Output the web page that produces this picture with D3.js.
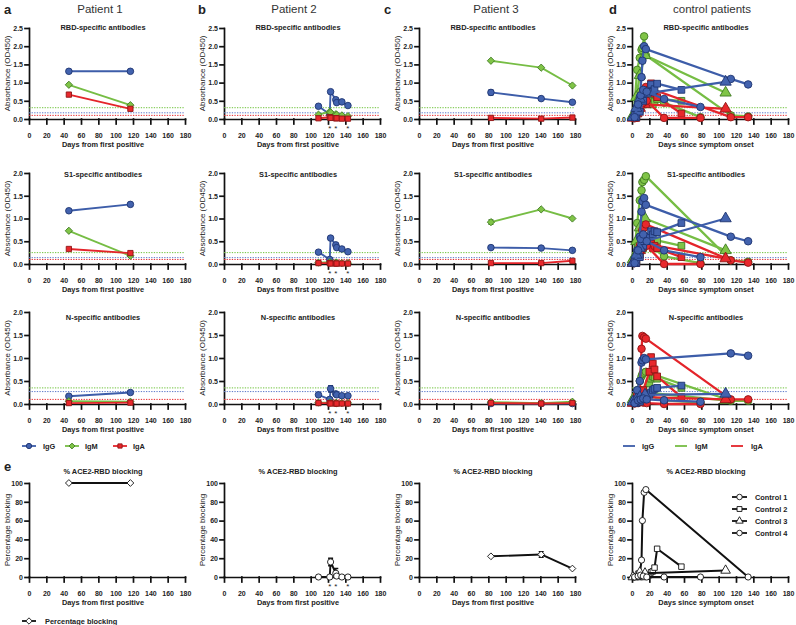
<!DOCTYPE html>
<html><head><meta charset="utf-8">
<script src="https://cdn.jsdelivr.net/npm/d3@7"></script>
<style>body{margin:0;background:#fff}svg{display:block;font-family:"Liberation Sans",Arial,sans-serif}</style>
</head><body><svg id="c" width="796" height="625"></svg>
<script>
// ---------- tick labels / text ----------
const xTicks = [0,20,40,60,80,100,120,140,160,180];
const rbdTicks = [0,0.5,1,1.5,2,2.5];
const absTicks = [0,0.5,1,1.5,2];
const blockTicks = [0,20,40,60,80,100];
const headers = ["Patient 1","Patient 2","Patient 3","control patients"];
const letters = ["a","b","c","d"];
const antigenTitles = ["RBD-specific antibodies","S1-specific antibodies","N-specific antibodies","% ACE2-RBD blocking"];
const xTitles = ["Days from first positive","Days from first positive","Days from first positive","Days since symptom onset"];
const controlNames = ["Control 1","Control 2","Control 3","Control 4"];
// cut-off lines [IgM, IgG, IgA]
const thrRBD = [0.31,0.17,0.10];
const thrS1 = [0.25,0.14,0.10];
const thrN = [0.35,0.27,0.10];

// ---------- Patient 1 ----------
const p1Days = [46,117];
const p1RBD_IgG=[1.31,1.31], p1RBD_IgM=[0.94,0.38], p1RBD_IgA=[0.67,0.28];
const p1S1_IgG=[1.17,1.31], p1S1_IgM=[0.73,0.18], p1S1_IgA=[0.33,0.24];
const p1N_IgG=[0.17,0.25], p1N_IgM=[0.06,0.05], p1N_IgA=[0.02,0.03];
const p1Block=[100,100];
// ---------- Patient 2 ----------
const p2Days = [109,122,123,129,130,136,143];
const p2Stars = [122,129,143];
const p2RBD_IgG=[0.35,0.13,0.75,0.53,0.45,0.47,0.37], p2RBD_IgM=[0.12,0.2,0.18,0.13,0.12,0.1,0.08], p2RBD_IgA=[0.02,0.05,0.03,0.02,0.02,0.01,0.01];
const p2S1_IgG=[0.26,0.1,0.57,0.42,0.36,0.33,0.27], p2S1_IgM=[0.03,0.04,0.03,0.03,0.03,0.02,0.02], p2S1_IgA=[0.02,0.02,0.01,0.01,0.01,0.01,0.01];
const p2N_IgG=[0.2,0.1,0.33,0.22,0.2,0.18,0.18], p2N_IgM=[0.03,0.03,0.03,0.02,0.02,0.02,0.02], p2N_IgA=[0.02,0.02,0.01,0.01,0.01,0.01,0.01];
const p2N_IgG_err=[0,0,0.07,0,0,0,0];
const p2Block=[0,0,16,4,1,0,0], p2Block_err=[0,0,4,5,0,0,0];
// ---------- Patient 3 ----------
const p3Days = [83,141,177];
const p3RBD_IgG=[0.73,0.56,0.46], p3RBD_IgM=[1.6,1.41,0.92], p3RBD_IgA=[0.03,0.01,0.04];
const p3RBD_IgG_err=[0.07,0,0];
const p3S1_IgG=[0.36,0.35,0.30], p3S1_IgM=[0.92,1.2,1.0], p3S1_IgA=[0.02,0.02,0.07];
const p3S1_IgM_err=[0.05,0,0];
const p3N_IgG=[0.01,0.01,0.01], p3N_IgM=[0.04,0.02,0.05], p3N_IgA=[0.02,0.01,0.02];
const p3Block=[22,24,9], p3Block_err=[0,3,0];
// ---------- Controls ----------
const c1Days=[2,6,9,11,12,14,16,114,134];
const c2Days=[5,9,13,20,22,24,26,29,57];
const c3Days=[1,5,9,15,108];
const c4Days=[3,7,10,13,17,37,79];
const c1RBD_IgG=[0.05,0.35,0.6,1.15,1.6,2.0,1.92,1.1,0.95], c1RBD_IgM=[0.1,1.35,1.68,1.9,1.95,2.27,1.75,0.1,0.07], c1RBD_IgA=[0.03,0.25,0.45,0.6,0.7,0.8,0.88,0.05,0.05];
const c2RBD_IgG=[0.05,0.2,0.5,0.75,0.95,0.75,0.82,0.97,0.8], c2RBD_IgM=[0.08,0.25,0.4,0.45,0.5,0.4,0.48,0.55,0.5], c2RBD_IgA=[0.03,0.3,0.6,0.8,0.98,0.85,0.7,0.6,0.15];
const c3RBD_IgG=[0.05,0.3,0.55,0.7,1.02], c3RBD_IgM=[0.1,0.6,1.2,1.75,0.72], c3RBD_IgA=[0.03,0.15,0.3,0.4,0.28];
const c4RBD_IgG=[0.05,0.4,0.65,0.8,0.75,0.55,0.33], c4RBD_IgM=[0.1,0.5,0.75,0.8,0.75,0.45,0.05], c4RBD_IgA=[0.02,0.2,0.35,0.45,0.5,0.03,0.03];
const c1S1_IgG=[0.02,0.3,0.6,1.15,1.38,1.45,1.3,0.6,0.5], c1S1_IgM=[0.1,0.9,1.4,1.62,1.8,1.85,1.93,0.08,0.05], c1S1_IgA=[0.02,0.2,0.4,0.6,0.75,0.8,0.87,0.08,0.03];
const c2S1_IgG=[0.02,0.15,0.4,0.6,0.72,0.65,0.72,0.7,0.9], c2S1_IgM=[0.05,0.2,0.35,0.45,0.5,0.45,0.5,0.52,0.4], c2S1_IgA=[0.02,0.2,0.4,0.5,0.45,0.35,0.4,0.35,0.15];
const c3S1_IgG=[0.02,0.2,0.35,0.5,1.0], c3S1_IgM=[0.1,0.5,0.8,1.0,0.3], c3S1_IgA=[0.02,0.15,0.3,0.45,0.12];
const c4S1_IgG=[0.02,0.3,0.55,0.65,0.5,0.3,0.15], c4S1_IgM=[0.1,0.4,0.6,0.55,0.45,0.17,0.02], c4S1_IgA=[0.02,0.15,0.3,0.35,0.4,0.0,0.0];
const c1N_IgG=[0.05,0.3,0.5,0.9,0.95,1.0,0.97,1.1,1.05], c1N_IgM=[0.1,0.3,0.5,0.6,0.65,0.68,0.7,0.07,0.07], c1N_IgA=[0.03,0.2,0.3,1.2,1.48,1.45,1.42,0.1,0.1];
const c2N_IgG=[0.02,0.05,0.1,0.2,0.25,0.3,0.33,0.35,0.4], c2N_IgM=[0.1,0.15,0.3,0.45,0.55,0.6,0.58,0.55,0.35], c2N_IgA=[0.02,0.1,0.3,0.7,1.02,0.88,0.75,0.6,0.15];
const c3N_IgG=[0.05,0.1,0.15,0.2,0.22], c3N_IgM=[0.1,0.15,0.2,0.25,0.08], c3N_IgA=[0.02,0.05,0.1,0.15,0.1];
const c4N_IgG=[0.02,0.08,0.1,0.12,0.1,0.08,0.05], c4N_IgM=[0.1,0.15,0.2,0.25,0.2,0.08,0.03], c4N_IgA=[0.01,0.02,0.05,0.03,0.02,0.0,0.0];
const c1Block=[0,1,3,18,60,90,93,null,0];
const c2Block=[0,0,0,2,5,6,10,30,11];
const c3Block=[0,1,5,4,7];
const c4Block=[0,1,2,1,0,0,0];

// ---------- layout / style ----------
const svg = d3.select("#c");
const colX = [29,224,419,632], W = 156;
const rows = [
  {top:28,bot:119,max:2.5,ticks:rbdTicks,fmt:d3.format(".1f"),titleY:30,yl:"Absorbance (OD450)"},
  {top:173,bot:264,max:2,ticks:absTicks,fmt:d3.format(".1f"),titleY:176.5,yl:"Absorbance (OD450)"},
  {top:312,bot:404,max:2,ticks:absTicks,fmt:d3.format(".1f"),titleY:320,yl:"Absorbance (OD450)"},
  {top:483,bot:577,max:100,ticks:blockTicks,fmt:d3.format("d"),titleY:474,yl:"Percentage blocking"}
];
const iso = {
  IgG:{line:"#3d5da9",fill:"#4262ae",stroke:"#1e3470",thr:"#5b78c8"},
  IgM:{line:"#76bd44",fill:"#80c447",stroke:"#3f7a23",thr:"#6fc23c"},
  IgA:{line:"#e4242a",fill:"#e8282c",stroke:"#8e1515",thr:"#e8262a"},
  block:{line:"#111",fill:"#fff",stroke:"#111"}
};
const diamondSym = {draw(ctx,size){const r=Math.sqrt(size)*0.62;ctx.moveTo(0,-r);ctx.lineTo(r,0);ctx.lineTo(0,r);ctx.lineTo(-r,0);ctx.closePath();}};
const sym = {circle:d3.symbolCircle,square:d3.symbolSquare,diamond:diamondSym,triangle:d3.symbolTriangle};
const shapeOf = {IgG:"circle",IgM:"diamond",IgA:"square"};
const ctrlShape = ["circle","square","triangle","circle"];

function panel(col,row,series,opts){
  const R = rows[row], x0 = colX[col];
  const x = d3.scaleLinear().domain([0,180]).range([x0,x0+W]);
  const y = d3.scaleLinear().domain([0,R.max]).range([R.bot,R.top]);
  const g = svg.append("g");
  g.append("text").attr("x",x0+74).attr("y",R.titleY).attr("text-anchor","middle")
    .attr("font-size",7.4).attr("font-weight","bold").attr("fill","#222").text(antigenTitles[row]);
  g.append("text").attr("transform",`translate(${x0-19.5},${(R.top+R.bot)/2}) rotate(-90)`)
    .attr("text-anchor","middle").attr("font-size",8).attr("fill","#222").text(R.yl);
  g.append("text").attr("x",x0+W/2-4).attr("y",R.bot+28).attr("text-anchor","middle")
    .attr("font-size",7.4).attr("font-weight","bold").attr("fill","#222").text(xTitles[col]);
  const ax = g.append("g").attr("transform",`translate(0,${R.bot})`)
    .call(d3.axisBottom(x).tickValues(xTicks).tickSize(5).tickSizeOuter(0).tickPadding(9));
  const ay = g.append("g").attr("transform",`translate(${x0},0)`)
    .call(d3.axisLeft(y).tickValues(R.ticks).tickFormat(R.fmt).tickSize(4).tickSizeOuter(0).tickPadding(2));
  [ax,ay].forEach(a=>{
    a.selectAll("path,line").attr("stroke","#111").attr("stroke-width",1.7).attr("stroke-linecap","square");
    a.selectAll("text").attr("font-size",7).attr("font-weight","bold").attr("fill","#222").attr("font-family","Liberation Sans, Arial, sans-serif");
  });
  if(opts.thr){
    ["IgM","IgG","IgA"].forEach((k,i)=>{
      g.append("line").attr("x1",x(0)).attr("x2",x(180)).attr("y1",y(opts.thr[i])).attr("y2",y(opts.thr[i]))
        .attr("stroke",iso[k].thr).attr("stroke-width",1).attr("stroke-dasharray","1.3,1.3");
    });
  }
  if(opts.stars){
    opts.stars.forEach(d=>g.append("text").attr("x",x(d)).attr("y",R.bot+12).attr("text-anchor","middle")
      .attr("font-size",8).attr("fill","#222").text("*"));
  }
  series.forEach(s=>{
    const st = iso[s.iso];
    const pts = s.days.map((d,i)=>({d,v:s.vals[i],e:s.err?s.err[i]:0})).filter(p=>p.v!=null);
    g.append("path").datum(pts).attr("d",d3.line().x(p=>x(p.d)).y(p=>y(p.v)))
      .attr("fill","none").attr("stroke",st.line).attr("stroke-width",s.lw||1.9).attr("stroke-linejoin","round");
    pts.filter(p=>p.e>0).forEach(p=>{
      const px=x(p.d), ya=y(p.v+p.e), yb=y(Math.max(0,p.v-p.e));
      g.append("path").attr("d",`M${px},${yb}V${ya}M${px-2.5},${ya}H${px+2.5}M${px-2.5},${yb}H${px+2.5}`)
        .attr("stroke",st.stroke).attr("stroke-width",1.4).attr("fill","none");
    });
    g.selectAll(null).data(pts).join("path")
      .attr("transform",p=>`translate(${x(p.d)},${y(p.v)})`)
      .attr("d",d3.symbol(sym[s.shape],s.size||34))
      .attr("fill",st.fill).attr("stroke",st.stroke).attr("stroke-width",0.9);
  });
}

// headers
headers.forEach((h,i)=>{
  const cx=[100,294,496,712][i];
  svg.append("text").attr("x",cx).attr("y",13).attr("text-anchor","middle").attr("font-size",11.5).attr("fill","#333").text(h);
  svg.append("text").attr("x",[4,198,384,609][i]).attr("y",14).attr("font-size",13).attr("font-weight","bold").attr("fill","#222").text(letters[i]);
});
svg.append("text").attr("x",4).attr("y",471).attr("font-size",13).attr("font-weight","bold").attr("fill","#222").text("e");

// patient panels
const pats = [
  {days:p1Days,rows:[[p1RBD_IgG,p1RBD_IgM,p1RBD_IgA],[p1S1_IgG,p1S1_IgM,p1S1_IgA],[p1N_IgG,p1N_IgM,p1N_IgA]],err:[{},{},{}],block:p1Block,berr:null},
  {days:p2Days,rows:[[p2RBD_IgG,p2RBD_IgM,p2RBD_IgA],[p2S1_IgG,p2S1_IgM,p2S1_IgA],[p2N_IgG,p2N_IgM,p2N_IgA]],err:[{},{},{IgG:p2N_IgG_err}],block:p2Block,berr:p2Block_err,stars:p2Stars},
  {days:p3Days,rows:[[p3RBD_IgG,p3RBD_IgM,p3RBD_IgA],[p3S1_IgG,p3S1_IgM,p3S1_IgA],[p3N_IgG,p3N_IgM,p3N_IgA]],err:[{IgG:p3RBD_IgG_err},{IgM:p3S1_IgM_err},{}],block:p3Block,berr:p3Block_err}
];
const thrs=[thrRBD,thrS1,thrN];
pats.forEach((p,ci)=>{
  for(let r=0;r<3;r++){
    const ser = ["IgG","IgM","IgA"].map((k,j)=>({days:p.days,vals:p.rows[r][j],iso:k,shape:shapeOf[k],err:p.err[r][k],size:k==="IgA"?28:34}));
    panel(ci,r,ser,{thr:thrs[r],stars:p.stars});
  }
  panel(ci,3,[{days:p.days,vals:p.block,iso:"block",shape:ci===1?"circle":"diamond",err:p.berr,size:30}],{stars:p.stars});
});

// control panels
const cDays=[c1Days,c2Days,c3Days,c4Days];
const cData=[
  {IgG:[c1RBD_IgG,c2RBD_IgG,c3RBD_IgG,c4RBD_IgG],IgM:[c1RBD_IgM,c2RBD_IgM,c3RBD_IgM,c4RBD_IgM],IgA:[c1RBD_IgA,c2RBD_IgA,c3RBD_IgA,c4RBD_IgA]},
  {IgG:[c1S1_IgG,c2S1_IgG,c3S1_IgG,c4S1_IgG],IgM:[c1S1_IgM,c2S1_IgM,c3S1_IgM,c4S1_IgM],IgA:[c1S1_IgA,c2S1_IgA,c3S1_IgA,c4S1_IgA]},
  {IgG:[c1N_IgG,c2N_IgG,c3N_IgG,c4N_IgG],IgM:[c1N_IgM,c2N_IgM,c3N_IgM,c4N_IgM],IgA:[c1N_IgA,c2N_IgA,c3N_IgA,c4N_IgA]}
];
for(let r=0;r<3;r++){
  const ser=[];
  ["IgM","IgA","IgG"].forEach(k=>{
    for(let c=0;c<4;c++) ser.push({days:cDays[c],vals:cData[r][k][c],iso:k,shape:ctrlShape[c],lw:2.3,size:ctrlShape[c]==="triangle"?55:45});
  });
  panel(3,r,ser,{thr:thrs[r]});
}
const cBlocks=[c1Block,c2Block,c3Block,c4Block];
panel(3,3,cBlocks.map((b,c)=>({days:cDays[c],vals:b,iso:"block",shape:ctrlShape[c],lw:2,size:ctrlShape[c]==="triangle"?40:30})),{});

// legends
function legItem(x1,x2,yy,style,shape,label,tx,size){
  svg.append("line").attr("x1",x1).attr("x2",x2).attr("y1",yy).attr("y2",yy).attr("stroke",style.line).attr("stroke-width",1.8);
  if(shape) svg.append("path").attr("transform",`translate(${(x1+x2)/2},${yy})`).attr("d",d3.symbol(sym[shape],size||22))
    .attr("fill",style.fill).attr("stroke",style.stroke).attr("stroke-width",0.9);
  svg.append("text").attr("x",tx).attr("y",yy+2.6).attr("font-size",7.4).attr("font-weight","bold").attr("fill","#222").text(label);
}
legItem(22,36,446,iso.IgG,"circle","IgG",43);
legItem(65,79,446,iso.IgM,"diamond","IgM",85);
legItem(113,127,446,iso.IgA,"square","IgA",133,18);
legItem(623,635,446,iso.IgG,null,"IgG",642);
legItem(675,687,446,iso.IgM,null,"IgM",695);
legItem(731,743,446,iso.IgA,null,"IgA",751);
legItem(22,36,621,iso.block,"diamond","Percentage blocking",45,26);
controlNames.forEach((n,c)=>legItem(732,747,497+c*12,iso.block,ctrlShape[c],n,755,24));
</script></body></html>
